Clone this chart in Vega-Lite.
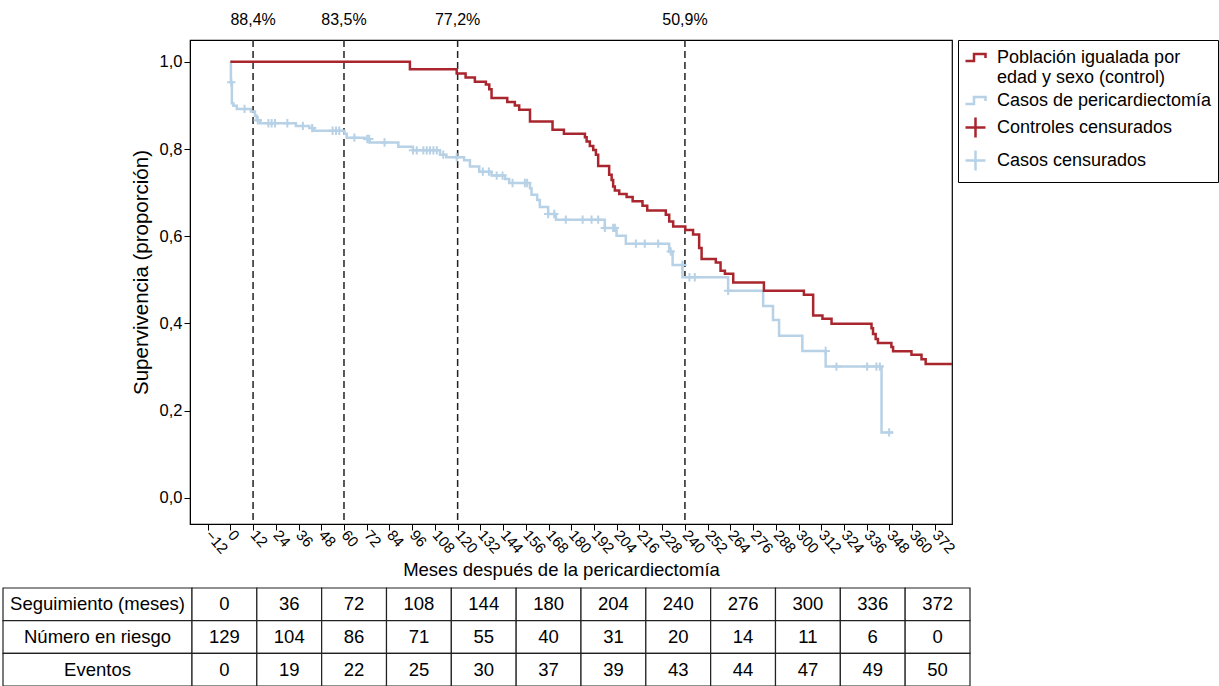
{
  "$schema": "https://vega.github.io/schema/vega-lite/v6.json",
  "width": 762,
  "height": 484,
  "autosize": "none",
  "padding": {"left": 190, "top": 40, "right": 267, "bottom": 162},
  "background": "white",
  "config": {
    "font": "Liberation Sans",
    "view": {"stroke": "black", "strokeWidth": 1.2},
    "axis": {"labelOverlap": false},
    "axisX": {"labelOverlap": false}
  },
  "datasets": {
    "cortes": [
      {"mes": 12, "etiqueta": "88,4%"},
      {"mes": 60, "etiqueta": "83,5%"},
      {"mes": 120, "etiqueta": "77,2%"},
      {"mes": 240, "etiqueta": "50,9%"}
    ],
    "casos": [
      {"grupo": "Casos de pericardiectomía", "mes": 0, "surv": 1.0},
      {"grupo": "Casos de pericardiectomía", "mes": 0.3, "surv": 0.953},
      {"grupo": "Casos de pericardiectomía", "mes": 0.8, "surv": 0.905},
      {"grupo": "Casos de pericardiectomía", "mes": 1.6, "surv": 0.899},
      {"grupo": "Casos de pericardiectomía", "mes": 3.4, "surv": 0.892},
      {"grupo": "Casos de pericardiectomía", "mes": 10.8, "surv": 0.886},
      {"grupo": "Casos de pericardiectomía", "mes": 13.0, "surv": 0.876},
      {"grupo": "Casos de pericardiectomía", "mes": 13.9, "surv": 0.866},
      {"grupo": "Casos de pericardiectomía", "mes": 15.7, "surv": 0.859},
      {"grupo": "Casos de pericardiectomía", "mes": 34.6, "surv": 0.853},
      {"grupo": "Casos de pericardiectomía", "mes": 41.6, "surv": 0.848},
      {"grupo": "Casos de pericardiectomía", "mes": 44.0, "surv": 0.842},
      {"grupo": "Casos de pericardiectomía", "mes": 60.2, "surv": 0.835},
      {"grupo": "Casos de pericardiectomía", "mes": 61.4, "surv": 0.826},
      {"grupo": "Casos de pericardiectomía", "mes": 71.0, "surv": 0.823},
      {"grupo": "Casos de pericardiectomía", "mes": 73.6, "surv": 0.815},
      {"grupo": "Casos de pericardiectomía", "mes": 88.7, "surv": 0.805},
      {"grupo": "Casos de pericardiectomía", "mes": 96.4, "surv": 0.797},
      {"grupo": "Casos de pericardiectomía", "mes": 110.7, "surv": 0.787},
      {"grupo": "Casos de pericardiectomía", "mes": 114.0, "surv": 0.781},
      {"grupo": "Casos de pericardiectomía", "mes": 123.4, "surv": 0.774},
      {"grupo": "Casos de pericardiectomía", "mes": 126.5, "surv": 0.760},
      {"grupo": "Casos de pericardiectomía", "mes": 131.4, "surv": 0.748},
      {"grupo": "Casos de pericardiectomía", "mes": 137.9, "surv": 0.739},
      {"grupo": "Casos de pericardiectomía", "mes": 145.0, "surv": 0.731},
      {"grupo": "Casos de pericardiectomía", "mes": 147.2, "surv": 0.722},
      {"grupo": "Casos de pericardiectomía", "mes": 158.2, "surv": 0.710},
      {"grupo": "Casos de pericardiectomía", "mes": 159.0, "surv": 0.695},
      {"grupo": "Casos de pericardiectomía", "mes": 162.0, "surv": 0.683},
      {"grupo": "Casos de pericardiectomía", "mes": 163.4, "surv": 0.667},
      {"grupo": "Casos de pericardiectomía", "mes": 167.8, "surv": 0.651},
      {"grupo": "Casos de pericardiectomía", "mes": 171.9, "surv": 0.638},
      {"grupo": "Casos de pericardiectomía", "mes": 197.7, "surv": 0.619},
      {"grupo": "Casos de pericardiectomía", "mes": 203.9, "surv": 0.601},
      {"grupo": "Casos de pericardiectomía", "mes": 208.8, "surv": 0.583},
      {"grupo": "Casos de pericardiectomía", "mes": 231.7, "surv": 0.565},
      {"grupo": "Casos de pericardiectomía", "mes": 233.5, "surv": 0.534},
      {"grupo": "Casos de pericardiectomía", "mes": 238.7, "surv": 0.506},
      {"grupo": "Casos de pericardiectomía", "mes": 262.8, "surv": 0.475},
      {"grupo": "Casos de pericardiectomía", "mes": 281.3, "surv": 0.440},
      {"grupo": "Casos de pericardiectomía", "mes": 286.5, "surv": 0.408},
      {"grupo": "Casos de pericardiectomía", "mes": 289.7, "surv": 0.372},
      {"grupo": "Casos de pericardiectomía", "mes": 302.0, "surv": 0.337},
      {"grupo": "Casos de pericardiectomía", "mes": 314.3, "surv": 0.301},
      {"grupo": "Casos de pericardiectomía", "mes": 343.8, "surv": 0.150},
      {"grupo": "Casos de pericardiectomía", "mes": 349.9, "surv": 0.150}
    ],
    "control": [
      {"grupo": "Población igualada por edad y sexo (control)", "mes": 0, "surv": 1.0},
      {"grupo": "Población igualada por edad y sexo (control)", "mes": 94.8, "surv": 0.983},
      {"grupo": "Población igualada por edad y sexo (control)", "mes": 119.5, "surv": 0.973},
      {"grupo": "Población igualada por edad y sexo (control)", "mes": 124.2, "surv": 0.964},
      {"grupo": "Población igualada por edad y sexo (control)", "mes": 129.1, "surv": 0.954},
      {"grupo": "Población igualada por edad y sexo (control)", "mes": 134.9, "surv": 0.948},
      {"grupo": "Población igualada por edad y sexo (control)", "mes": 136.7, "surv": 0.937},
      {"grupo": "Población igualada por edad y sexo (control)", "mes": 137.9, "surv": 0.917},
      {"grupo": "Población igualada por edad y sexo (control)", "mes": 146.2, "surv": 0.908},
      {"grupo": "Población igualada por edad y sexo (control)", "mes": 150.2, "surv": 0.900},
      {"grupo": "Población igualada por edad y sexo (control)", "mes": 152.5, "surv": 0.890},
      {"grupo": "Población igualada por edad y sexo (control)", "mes": 158.2, "surv": 0.863},
      {"grupo": "Población igualada por edad y sexo (control)", "mes": 170.1, "surv": 0.844},
      {"grupo": "Población igualada por edad y sexo (control)", "mes": 176.1, "surv": 0.835},
      {"grupo": "Población igualada por edad y sexo (control)", "mes": 187.2, "surv": 0.827},
      {"grupo": "Población igualada por edad y sexo (control)", "mes": 188.1, "surv": 0.817},
      {"grupo": "Población igualada por edad y sexo (control)", "mes": 189.8, "surv": 0.807},
      {"grupo": "Población igualada por edad y sexo (control)", "mes": 191.6, "surv": 0.798},
      {"grupo": "Población igualada por edad y sexo (control)", "mes": 193.0, "surv": 0.787},
      {"grupo": "Población igualada por edad y sexo (control)", "mes": 194.2, "surv": 0.761},
      {"grupo": "Población igualada por edad y sexo (control)", "mes": 200.0, "surv": 0.741},
      {"grupo": "Población igualada por edad y sexo (control)", "mes": 201.3, "surv": 0.729},
      {"grupo": "Población igualada por edad y sexo (control)", "mes": 202.1, "surv": 0.714},
      {"grupo": "Población igualada por edad y sexo (control)", "mes": 203.0, "surv": 0.705},
      {"grupo": "Población igualada por edad y sexo (control)", "mes": 205.3, "surv": 0.697},
      {"grupo": "Población igualada por edad y sexo (control)", "mes": 209.2, "surv": 0.690},
      {"grupo": "Población igualada por edad y sexo (control)", "mes": 212.4, "surv": 0.680},
      {"grupo": "Población igualada por edad y sexo (control)", "mes": 217.6, "surv": 0.670},
      {"grupo": "Población igualada por edad y sexo (control)", "mes": 220.1, "surv": 0.659},
      {"grupo": "Población igualada por edad y sexo (control)", "mes": 229.9, "surv": 0.649},
      {"grupo": "Población igualada por edad y sexo (control)", "mes": 231.7, "surv": 0.634},
      {"grupo": "Población igualada por edad y sexo (control)", "mes": 233.8, "surv": 0.622},
      {"grupo": "Población igualada por edad y sexo (control)", "mes": 240.2, "surv": 0.614},
      {"grupo": "Población igualada por edad y sexo (control)", "mes": 244.3, "surv": 0.604},
      {"grupo": "Población igualada por edad y sexo (control)", "mes": 247.5, "surv": 0.573},
      {"grupo": "Población igualada por edad y sexo (control)", "mes": 248.8, "surv": 0.548},
      {"grupo": "Población igualada por edad y sexo (control)", "mes": 256.3, "surv": 0.540},
      {"grupo": "Población igualada por edad y sexo (control)", "mes": 258.8, "surv": 0.521},
      {"grupo": "Población igualada por edad y sexo (control)", "mes": 261.1, "surv": 0.514},
      {"grupo": "Población igualada por edad y sexo (control)", "mes": 265.5, "surv": 0.494},
      {"grupo": "Población igualada por edad y sexo (control)", "mes": 281.7, "surv": 0.475},
      {"grupo": "Población igualada por edad y sexo (control)", "mes": 302.8, "surv": 0.466},
      {"grupo": "Población igualada por edad y sexo (control)", "mes": 307.7, "surv": 0.418},
      {"grupo": "Población igualada por edad y sexo (control)", "mes": 312.6, "surv": 0.411},
      {"grupo": "Población igualada por edad y sexo (control)", "mes": 317.4, "surv": 0.399},
      {"grupo": "Población igualada por edad y sexo (control)", "mes": 338.5, "surv": 0.389},
      {"grupo": "Población igualada por edad y sexo (control)", "mes": 339.3, "surv": 0.376},
      {"grupo": "Población igualada por edad y sexo (control)", "mes": 340.7, "surv": 0.364},
      {"grupo": "Población igualada por edad y sexo (control)", "mes": 341.9, "surv": 0.355},
      {"grupo": "Población igualada por edad y sexo (control)", "mes": 349.0, "surv": 0.346},
      {"grupo": "Población igualada por edad y sexo (control)", "mes": 349.9, "surv": 0.336},
      {"grupo": "Población igualada por edad y sexo (control)", "mes": 359.6, "surv": 0.328},
      {"grupo": "Población igualada por edad y sexo (control)", "mes": 364.9, "surv": 0.318},
      {"grupo": "Población igualada por edad y sexo (control)", "mes": 367.1, "surv": 0.307},
      {"grupo": "Población igualada por edad y sexo (control)", "mes": 381.0, "surv": 0.307}
    ],
    "censurados": [
      {"grupo": "Casos censurados", "mes": 0.5, "surv": 0.953},
      {"grupo": "Casos censurados", "mes": 7.5, "surv": 0.892},
      {"grupo": "Casos censurados", "mes": 14.5, "surv": 0.866},
      {"grupo": "Casos censurados", "mes": 20.1, "surv": 0.859},
      {"grupo": "Casos censurados", "mes": 21.8, "surv": 0.859},
      {"grupo": "Casos censurados", "mes": 23.6, "surv": 0.859},
      {"grupo": "Casos censurados", "mes": 30.1, "surv": 0.859},
      {"grupo": "Casos censurados", "mes": 38.3, "surv": 0.853},
      {"grupo": "Casos censurados", "mes": 43.2, "surv": 0.848},
      {"grupo": "Casos censurados", "mes": 54.0, "surv": 0.842},
      {"grupo": "Casos censurados", "mes": 55.8, "surv": 0.842},
      {"grupo": "Casos censurados", "mes": 57.5, "surv": 0.842},
      {"grupo": "Casos censurados", "mes": 65.5, "surv": 0.826},
      {"grupo": "Casos censurados", "mes": 72.3, "surv": 0.823},
      {"grupo": "Casos censurados", "mes": 73.3, "surv": 0.823},
      {"grupo": "Casos censurados", "mes": 81.4, "surv": 0.815},
      {"grupo": "Casos censurados", "mes": 96.4, "surv": 0.797},
      {"grupo": "Casos censurados", "mes": 98.4, "surv": 0.797},
      {"grupo": "Casos censurados", "mes": 101.9, "surv": 0.797},
      {"grupo": "Casos censurados", "mes": 103.7, "surv": 0.797},
      {"grupo": "Casos censurados", "mes": 105.4, "surv": 0.797},
      {"grupo": "Casos censurados", "mes": 107.2, "surv": 0.797},
      {"grupo": "Casos censurados", "mes": 109.0, "surv": 0.797},
      {"grupo": "Casos censurados", "mes": 112.4, "surv": 0.787},
      {"grupo": "Casos censurados", "mes": 119.5, "surv": 0.781},
      {"grupo": "Casos censurados", "mes": 133.3, "surv": 0.748},
      {"grupo": "Casos censurados", "mes": 136.5, "surv": 0.748},
      {"grupo": "Casos censurados", "mes": 140.6, "surv": 0.739},
      {"grupo": "Casos censurados", "mes": 143.7, "surv": 0.739},
      {"grupo": "Casos censurados", "mes": 149.0, "surv": 0.722},
      {"grupo": "Casos censurados", "mes": 155.5, "surv": 0.722},
      {"grupo": "Casos censurados", "mes": 156.7, "surv": 0.722},
      {"grupo": "Casos censurados", "mes": 167.8, "surv": 0.651},
      {"grupo": "Casos censurados", "mes": 171.0, "surv": 0.651},
      {"grupo": "Casos censurados", "mes": 177.1, "surv": 0.638},
      {"grupo": "Casos censurados", "mes": 186.0, "surv": 0.638},
      {"grupo": "Casos censurados", "mes": 190.7, "surv": 0.638},
      {"grupo": "Casos censurados", "mes": 194.2, "surv": 0.638},
      {"grupo": "Casos censurados", "mes": 197.7, "surv": 0.619},
      {"grupo": "Casos censurados", "mes": 202.1, "surv": 0.619},
      {"grupo": "Casos censurados", "mes": 203.0, "surv": 0.619},
      {"grupo": "Casos censurados", "mes": 214.1, "surv": 0.583},
      {"grupo": "Casos censurados", "mes": 218.8, "surv": 0.583},
      {"grupo": "Casos censurados", "mes": 225.9, "surv": 0.583},
      {"grupo": "Casos censurados", "mes": 232.5, "surv": 0.565},
      {"grupo": "Casos censurados", "mes": 238.7, "surv": 0.534},
      {"grupo": "Casos censurados", "mes": 242.4, "surv": 0.506},
      {"grupo": "Casos censurados", "mes": 245.2, "surv": 0.506},
      {"grupo": "Casos censurados", "mes": 262.8, "surv": 0.475},
      {"grupo": "Casos censurados", "mes": 314.3, "surv": 0.337},
      {"grupo": "Casos censurados", "mes": 320.0, "surv": 0.301},
      {"grupo": "Casos censurados", "mes": 336.2, "surv": 0.301},
      {"grupo": "Casos censurados", "mes": 341.1, "surv": 0.301},
      {"grupo": "Casos censurados", "mes": 342.9, "surv": 0.301},
      {"grupo": "Casos censurados", "mes": 347.8, "surv": 0.150}
    ],
    "tabla": [
      {"seg": 0, "riesgo": 129, "eventos": 0},
      {"seg": 36, "riesgo": 104, "eventos": 19},
      {"seg": 72, "riesgo": 86, "eventos": 22},
      {"seg": 108, "riesgo": 71, "eventos": 25},
      {"seg": 144, "riesgo": 55, "eventos": 30},
      {"seg": 180, "riesgo": 40, "eventos": 37},
      {"seg": 204, "riesgo": 31, "eventos": 39},
      {"seg": 240, "riesgo": 20, "eventos": 43},
      {"seg": 276, "riesgo": 14, "eventos": 44},
      {"seg": 300, "riesgo": 11, "eventos": 47},
      {"seg": 336, "riesgo": 6, "eventos": 49},
      {"seg": 372, "riesgo": 0, "eventos": 50}
    ],
    "filas": [
      {"key": "seg", "label": "Seguimiento (meses)"},
      {"key": "riesgo", "label": "Número en riesgo"},
      {"key": "eventos", "label": "Eventos"}
    ]
  },
  "layer": [
    {
      "layer": [
        {
          "data": {"name": "cortes"},
          "mark": {"type": "rule", "strokeDash": [7, 4], "color": "#222222", "strokeWidth": 1.5},
          "encoding": {
            "x": {
              "field": "mes", "type": "quantitative",
              "scale": {"domain": [-21.3, 381], "nice": false, "zero": false},
              "axis": {
                "values": [-12, 0, 12, 24, 36, 48, 60, 72, 84, 96, 108, 120, 132, 144, 156, 168, 180, 192, 204, 216, 228, 240, 252, 264, 276, 288, 300, 312, 324, 336, 348, 360, 372],
                "tickCount": 60,
                "labelAngle": 48, "labelAlign": "left", "labelBaseline": "middle",
                "labelFontSize": 15, "labelColor": "black", "labelOverlap": false, "labelFlush": false, "labelBound": false,
                "tickSize": 6, "tickColor": "black", "domainColor": "black", "grid": false,
                "title": "Meses después de la pericardiectomía", "titleFontSize": 18.5,
                "titleFontWeight": "normal", "titleColor": "black", "titlePadding": 4, "titleX": 371
              }
            }
          }
        },
        {
          "data": {"name": "cortes"},
          "mark": {"type": "text", "fontSize": 16, "color": "black"},
          "encoding": {
            "x": {"field": "mes", "type": "quantitative"},
            "y": {"datum": 1.096, "type": "quantitative"},
            "text": {"field": "etiqueta"}
          }
        },
        {
          "data": {"name": "casos"},
          "mark": {"type": "line", "interpolate": "step-after", "strokeWidth": 2.5},
          "encoding": {
            "x": {"field": "mes", "type": "quantitative"},
            "y": {
              "field": "surv", "type": "quantitative",
              "scale": {"domain": [-0.06, 1.05], "nice": false, "zero": false},
              "axis": {
                "values": [0, 0.2, 0.4, 0.6, 0.8, 1.0],
                "labelExpr": "replace(format(datum.value, '.1f'), '.', ',')",
                "labelFontSize": 16.5, "labelColor": "black", "tickSize": 6, "tickColor": "black",
                "domainColor": "black", "grid": false,
                "title": "Supervivencia (proporción)", "titleFontSize": 20.5, "titleFontWeight": "normal",
                "titleColor": "black", "titlePadding": 8, "titleY": 232
              }
            },
            "color": {
              "field": "grupo", "type": "nominal",
              "scale": {
                "domain": ["Población igualada por edad y sexo (control)", "Casos de pericardiectomía", "Controles censurados", "Casos censurados"],
                "range": ["#a9262e", "#b7d1e6", "#a9262e", "#b7d1e6"]
              },
              "legend": {
                "orient": "none", "legendX": 768, "legendY": 0, "title": null,
                "strokeColor": "black", "padding": 6, "labelFontSize": 18, "labelColor": "black",
                "symbolSize": 400, "symbolStrokeWidth": 2.5, "labelLimit": 400, "rowPadding": 2, "labelOffset": 10,
                "labelExpr": "datum.value == 'Población igualada por edad y sexo (control)' ? ['Población igualada por', 'edad y sexo (control)'] : datum.label",
                "encode": {
                  "symbols": {
                    "update": {
                      "shape": {"signal": "indexof(datum.value, 'censurados') >= 0 ? 'M-1,0H1M0,-1V1' : 'M-1,0.35H-0.15V-0.35H1V0.05'"},
                      "fill": {"value": "transparent"}
                    }
                  },
                  "labels": {"update": {"lineHeight": {"value": 20}}}
                }
              }
            }
          }
        },
        {
          "data": {"name": "censurados"},
          "mark": {"type": "point", "filled": false, "shape": "M-1,0H1M0,-1V1", "size": 70, "strokeWidth": 2, "opacity": 1},
          "encoding": {
            "x": {"field": "mes", "type": "quantitative"},
            "y": {"field": "surv", "type": "quantitative"},
            "color": {"field": "grupo", "type": "nominal"}
          }
        },
        {
          "data": {"name": "control"},
          "mark": {"type": "line", "interpolate": "step-after", "strokeWidth": 2.5},
          "encoding": {
            "x": {"field": "mes", "type": "quantitative"},
            "y": {"field": "surv", "type": "quantitative"},
            "color": {"field": "grupo", "type": "nominal"}
          }
        }
      ]
    },
    {
      "layer": [
        {
          "data": {"name": "filas"},
          "mark": {"type": "rect", "fill": "white", "stroke": "#222222", "strokeWidth": 1.2},
          "encoding": {
            "x": {"datum": "lab", "type": "nominal", "scale": {"range": [-187, 2], "paddingInner": 0, "paddingOuter": 0}, "axis": null},
            "y": {"field": "key", "type": "nominal", "scale": {"domain": ["seg", "riesgo", "eventos"], "range": [548, 646], "paddingInner": 0, "paddingOuter": 0}, "axis": null}
          }
        },
        {
          "data": {"name": "filas"},
          "mark": {"type": "text", "fontSize": 18.5, "color": "black"},
          "encoding": {
            "x": {"datum": "lab", "type": "nominal", "scale": {"range": [-187, 2], "paddingInner": 0, "paddingOuter": 0}, "axis": null},
            "y": {"field": "key", "type": "nominal", "axis": null},
            "text": {"field": "label"}
          }
        },
        {
          "data": {"name": "tabla"},
          "transform": [{"fold": ["seg", "riesgo", "eventos"], "as": ["key", "valor"]}],
          "mark": {"type": "rect", "fill": "white", "stroke": "#222222", "strokeWidth": 1.2},
          "encoding": {
            "x": {"field": "seg", "type": "ordinal", "scale": {"range": [2, 780], "paddingInner": 0, "paddingOuter": 0}, "axis": null},
            "y": {"field": "key", "type": "nominal", "axis": null}
          }
        },
        {
          "data": {"name": "tabla"},
          "transform": [{"fold": ["seg", "riesgo", "eventos"], "as": ["key", "valor"]}],
          "mark": {"type": "text", "fontSize": 18.5, "color": "black"},
          "encoding": {
            "x": {"field": "seg", "type": "ordinal", "scale": {"range": [2, 780], "paddingInner": 0, "paddingOuter": 0}, "axis": null},
            "y": {"field": "key", "type": "nominal", "axis": null},
            "text": {"field": "valor", "type": "nominal"}
          }
        }
      ],
      "resolve": {"scale": {"x": "independent"}}
    }
  ],
  "resolve": {"scale": {"x": "independent", "y": "independent"}}
}
